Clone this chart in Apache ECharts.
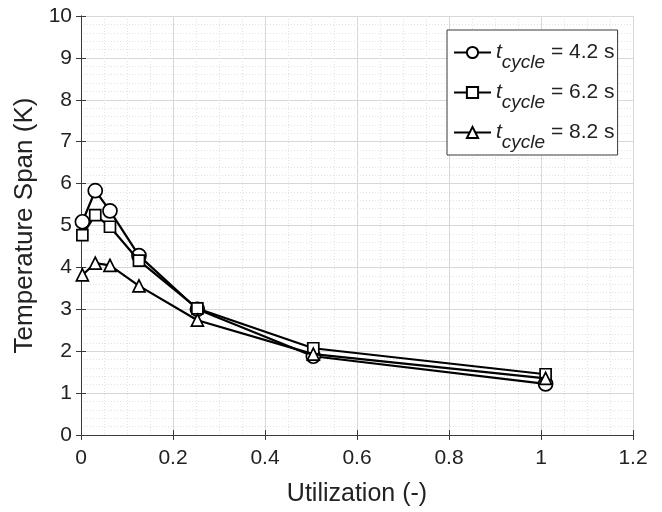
<!DOCTYPE html>
<html>
<head>
<meta charset="utf-8">
<script src="https://cdn.jsdelivr.net/npm/echarts@6/dist/echarts.min.js"></script>
<style>html,body{margin:0;padding:0;background:#fff;}#c{width:662px;height:512px;}</style>
</head>
<body>
<div id="c"></div>
<script>
const utilization = [0.003, 0.031, 0.063, 0.126, 0.253, 0.505, 1.01];
const span42 = [5.09, 5.83, 5.35, 4.28, 3.00, 1.88, 1.22];
const span62 = [4.77, 5.25, 4.97, 4.16, 3.02, 2.07, 1.45];
const span82 = [3.82, 4.10, 4.05, 3.56, 2.74, 1.93, 1.35];
const seriesNames = ['4.2 s', '6.2 s', '8.2 s'];
const seriesSymbols = ['circle', 'rect', 'triangle'];
const seriesSizes = [14, 11, 12];
const xTicks = [0, 0.2, 0.4, 0.6, 0.8, 1, 1.2];
const yTicks = [0, 1, 2, 3, 4, 5, 6, 7, 8, 9, 10];

const FONT = 'Liberation Sans, Arial, sans-serif';
const AX = '#3a3a3a';
const TXT = '#222';
const values = [span42, span62, span82];

const series = values.map((v, i) => ({
  name: seriesNames[i],
  type: 'line',
  data: v.map((y, j) => [utilization[j], y]),
  symbol: seriesSymbols[i],
  symbolSize: seriesSizes[i],
  lineStyle: { color: '#000', width: 2.2 },
  itemStyle: { color: '#fff', borderColor: '#000', borderWidth: 1.7 },
  z: 2 + i,
  animation: false
}));

const chart = echarts.init(document.getElementById('c'), null, { renderer: 'canvas' });
chart.setOption({
  backgroundColor: '#fff',
  animation: false,
  grid: { left: 81, top: 16, right: 29, bottom: 75, containLabel: false },
  xAxis: [{
    type: 'value', min: xTicks[0], max: xTicks[xTicks.length - 1], interval: 0.2,
    name: 'Utilization (-)', nameLocation: 'middle', nameGap: 47,
    nameTextStyle: { fontFamily: FONT, fontSize: 25, color: TXT },
    axisLine: { show: true, lineStyle: { color: AX, width: 1 } },
    axisTick: { show: true, inside: true, length: 5, lineStyle: { color: AX } },
    axisLabel: { fontFamily: FONT, fontSize: 21, color: TXT, margin: 13,
      formatter: v => String(parseFloat(v.toFixed(1))) },
    splitLine: { show: true, lineStyle: { color: '#d8d8d8', width: 1 } },
    minorTick: { show: false, splitNumber: 4 },
    minorSplitLine: { show: true, lineStyle: { color: '#e2e2e2', width: 1, type: [1, 2] } }
  }, {
    type: 'value', min: xTicks[0], max: xTicks[xTicks.length - 1], interval: 0.2, position: 'top',
    axisLine: { show: true, lineStyle: { color: AX, width: 1 } },
    axisTick: { show: true, inside: true, length: 5, lineStyle: { color: AX } },
    axisLabel: { show: false }, splitLine: { show: false }
  }],
  yAxis: [{
    type: 'value', min: yTicks[0], max: yTicks[yTicks.length - 1], interval: 1,
    name: 'Temperature Span (K)', nameLocation: 'middle', nameGap: 43,
    nameTextStyle: { fontFamily: FONT, fontSize: 26, color: TXT },
    axisLine: { show: true, lineStyle: { color: AX, width: 1 } },
    axisTick: { show: true, inside: true, length: 5, lineStyle: { color: AX } },
    axisLabel: { fontFamily: FONT, fontSize: 21, color: TXT, margin: 9 },
    splitLine: { show: true, lineStyle: { color: '#d8d8d8', width: 1 } },
    minorTick: { show: false, splitNumber: 5 },
    minorSplitLine: { show: true, lineStyle: { color: '#e2e2e2', width: 1, type: [1, 2] } }
  }, {
    type: 'value', min: yTicks[0], max: yTicks[yTicks.length - 1], interval: 1, position: 'right',
    axisLine: { show: true, lineStyle: { color: AX, width: 1 } },
    axisTick: { show: true, inside: true, length: 5, lineStyle: { color: AX } },
    axisLabel: { show: false }, splitLine: { show: false }
  }],
  legend: {
    orient: 'vertical', left: 447, top: 30,
    backgroundColor: '#fff', borderColor: AX, borderWidth: 1,
    padding: [12, 3, 3, 6], itemGap: 10, itemWidth: 37, itemHeight: 14,
    data: seriesNames,
    formatter: n => '{t|t}{s|cycle}{n| = ' + n + '}',
    textStyle: {
      fontFamily: FONT, color: TXT,
      rich: {
        t: { fontFamily: FONT, fontSize: 21, fontStyle: 'italic', lineHeight: 39, color: TXT },
        s: { fontFamily: FONT, fontSize: 19, fontStyle: 'italic', lineHeight: 18, verticalAlign: 'bottom', color: TXT },
        n: { fontFamily: FONT, fontSize: 21, lineHeight: 39, color: TXT }
      }
    }
  },
  series: series
});
</script>
</body>
</html>
